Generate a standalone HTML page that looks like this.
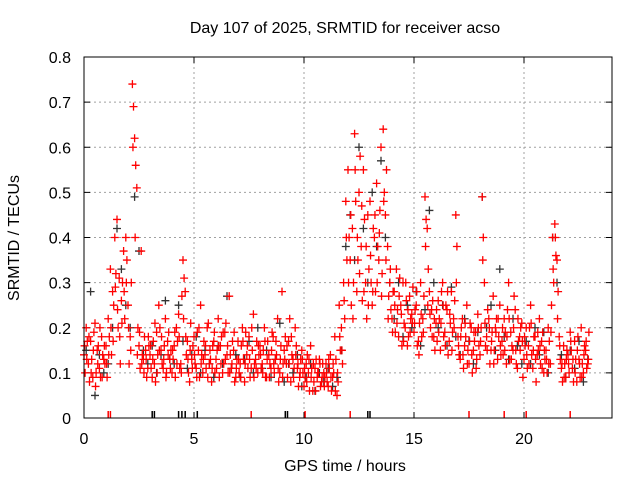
<!DOCTYPE html>
<html><head><meta charset="utf-8">
<style>
html,body{margin:0;padding:0;background:#fff;}
svg{display:block;font-family:"Liberation Sans",sans-serif;}
</style></head>
<body>
<svg id="chart" width="640" height="480" viewBox="0 0 640 480">
  <rect x="0" y="0" width="640" height="480" fill="#fff"/>
  <text x="345" y="33" font-size="16" text-anchor="middle">Day 107 of 2025, SRMTID for receiver acso</text>
  <text x="345" y="471" font-size="16" text-anchor="middle">GPS time / hours</text>
  <text x="19" y="238" font-size="16" text-anchor="middle" transform="rotate(-90 19 238)">SRMTID / TECUs</text>
  <g id="grid"></g>
  <g id="axes"></g>
  <g id="marks"></g>
  <rect x="84" y="57" width="528" height="361" fill="none" stroke="#000" stroke-width="1"/>
</svg>
<script>
const xTicks = [0,5,10,15,20];
const yTicks = [0,0.1,0.2,0.3,0.4,0.5,0.6,0.7,0.8];
const yTickLabels = ["0","0.1","0.2","0.3","0.4","0.5","0.6","0.7","0.8"];
const red1Start = 0, red2Start = 0.05, red3Start = 0.025, blackStart = 0.1;
const redStep = 0.1, blackStep = 0.2;
const red1 = [.14,.20,.12,.17,.09,.21,.15,.11,.18,.13,
.16,.22,.33,.28,.40,.44,.31,.26,.37,.40,
.25,.18,.74,.62,.51,.16,.37,.13,.15,.11,
.14,.09,.12,.19,.25,.15,.11,.22,.17,.13,
.10,.16,.20,.23,.12,.35,.28,.17,.08,.13,
.18,.11,.15,.25,.10,.14,.20,.12,.08,.17,
.13,.22,.16,.10,.19,.14,.27,.11,.15,.09,
.17,.12,.20,.08,.14,.18,.11,.23,.13,.10,
.16,.12,.20,.09,.14,.11,.18,.13,.22,.10,
.28,.15,.12,.17,.08,.13,.20,.11,.09,.15,
.07,.12,.10,.16,.06,.11,.09,.13,.08,.10,
.12,.07,.14,.09,.18,.05,.25,.20,.30,.48,
.55,.35,.42,.63,.28,.50,.38,.55,.30,.45,
.48,.25,.40,.52,.35,.60,.64,.45,.38,.30,
.22,.28,.33,.18,.25,.30,.20,.16,.27,.23,
.19,.25,.17,.30,.22,.49,.42,.28,.24,.18,
.21,.26,.15,.30,.19,.24,.17,.28,.22,.45,
.18,.13,.22,.16,.25,.12,.20,.15,.19,.23,
.14,.49,.30,.18,.22,.15,.27,.20,.13,.25,
.17,.22,.12,.30,.19,.15,.24,.11,.18,.21,
.13,.20,.16,.25,.11,.18,.14,.22,.17,.10,
.15,.20,.12,.40,.43,.35,.18,.11,.16,.09,
.14,.19,.11,.17,.08,.13,.20,.10,.15,.12];
const red2 = [.10,.17,.08,.13,.19,.10,.16,.09,.14,.12,
.09,.18,.14,.25,.32,.20,.12,.30,.22,.35,
.12,.30,.69,.56,.20,.11,.14,.18,.09,.16,
.11,.17,.08,.14,.20,.12,.16,.10,.19,.15,
.13,.09,.17,.11,.27,.31,.14,.10,.21,.16,
.12,.19,.09,.14,.17,.11,.21,.13,.16,.10,
.15,.09,.18,.12,.21,.10,.14,.17,.08,.13,
.10,.16,.13,.19,.11,.09,.15,.12,.17,.14,
.11,.15,.09,.17,.12,.19,.10,.14,.08,.16,
.12,.18,.09,.22,.14,.11,.16,.07,.13,.10,
.09,.14,.06,.11,.08,.13,.10,.07,.12,.09,
.08,.11,.06,.10,.13,.08,.15,.12,.22,.35,
.40,.25,.30,.48,.35,.58,.26,.44,.22,.33,
.30,.42,.28,.38,.46,.32,.50,.55,.27,.24,
.28,.19,.24,.31,.16,.21,.26,.18,.22,.29,
.24,.16,.21,.18,.27,.44,.33,.20,.26,.15,
.17,.22,.28,.18,.25,.14,.21,.19,.26,.38,
.14,.20,.11,.18,.15,.21,.10,.17,.13,.16,
.20,.40,.16,.24,.12,.19,.15,.22,.18,.14,
.14,.19,.24,.13,.16,.27,.12,.17,.20,.09,
.16,.11,.20,.14,.18,.08,.15,.12,.19,.13,
.10,.17,.25,.30,.36,.28,.13,.08,.12,.15,
.10,.15,.08,.13,.18,.09,.12,.16,.11,.19];
const red3 = [.16,.13,.18,.10,.15,.07,.12,.20,.09,.16,
.12,.14,.20,.17,.29,.24,.18,.21,.28,.30,
.20,.15,.60,.40,.14,.19,.12,.10,.13,.18,
.16,.13,.21,.10,.15,.18,.13,.09,.14,.11,
.15,.19,.12,.18,.10,.22,.18,.13,.15,.11,
.14,.09,.20,.12,.13,.16,.09,.15,.11,.19,
.11,.16,.12,.19,.13,.16,.10,.12,.19,.11,
.13,.09,.17,.12,.16,.13,.20,.09,.11,.16,
.14,.10,.17,.13,.09,.15,.12,.17,.11,.13,
.09,.13,.16,.12,.18,.09,.14,.12,.10,.13,
.11,.08,.13,.09,.12,.06,.10,.12,.09,.07,
.10,.13,.09,.12,.06,.10,.18,.15,.26,.40,
.30,.45,.22,.55,.40,.32,.47,.28,.38,.25,
.36,.28,.45,.30,.41,.27,.48,.35,.22,.33,
.19,.25,.21,.27,.23,.17,.30,.24,.19,.21,
.21,.28,.14,.23,.19,.38,.25,.23,.18,.22,
.24,.19,.21,.25,.16,.28,.23,.15,.20,.30,
.16,.18,.14,.21,.12,.17,.14,.19,.11,.20,
.17,.35,.21,.15,.20,.17,.12,.19,.22,.16,
.20,.15,.18,.22,.13,.20,.15,.22,.15,.17,
.18,.14,.12,.21,.15,.13,.19,.16,.11,.15,
.13,.12,.19,.33,.40,.22,.16,.12,.09,.13,
.12,.17,.13,.10,.15,.12,.09,.14,.17,.13];
const black = [.15,.28,.05,.14,.10,.12,.20,.42,.33,.25,
.20,.49,.37,.15,.12,.16,.10,.14,.26,.13,
.12,.25,.17,.11,.14,.18,.10,.15,.12,.09,
.16,.12,.27,.11,.14,.09,.13,.17,.10,.20,
.11,.15,.09,.13,.21,.08,.12,.10,.14,.07,
.09,.12,.06,.10,.08,.11,.07,.09,.15,.38,
.45,.35,.60,.42,.30,.50,.38,.57,.40,.30,
.22,.30,.18,.25,.20,.28,.16,.24,.46,.30,
.20,.25,.16,.29,.18,.14,.22,.17,.12,.19,
.49,.20,.25,.15,.33,.18,.13,.22,.16,.12,
.17,.12,.20,.14,.19,.10,.40,.30,.14,.09,
.15,.11,.17,.08,.13];
const zeroRedTimes = [1.1,1.2,7.6,10.05,12.1,17.5,19.1,20.1,22.1];
const zeroBlackTimes = [3.1,3.2,4.3,4.45,4.6,5.15,9.15,9.25,12.9,13.0];

const X0=84, X1=612, Y0=418, Y1=57;
const xs = t => X0 + t/24*(X1-X0);
const ys = v => Y0 - v/0.8*(Y0-Y1);
const NS="http://www.w3.org/2000/svg";
function mk(tag, parent){const e=document.createElementNS(NS,tag);parent.appendChild(e);return e;}
const grid=document.getElementById('grid'), axes=document.getElementById('axes'), marks=document.getElementById('marks');

xTicks.forEach(t=>{
  const x=xs(t);
  if(t>0){const g=mk('line',grid);g.setAttribute('x1',x);g.setAttribute('x2',x);g.setAttribute('y1',Y1);g.setAttribute('y2',Y0);
  g.setAttribute('stroke','#a0a0a0');g.setAttribute('stroke-dasharray','2,3');
  
  }
  [[Y0,Y0-6],[Y1,Y1+6]].forEach(p=>{const k=mk('line',axes);k.setAttribute('x1',x);k.setAttribute('x2',x);k.setAttribute('y1',p[0]);k.setAttribute('y2',p[1]);k.setAttribute('stroke','#000');
  
  });
  const l=mk('text',axes);l.setAttribute('x',x);l.setAttribute('y',444);l.setAttribute('font-size','16');l.setAttribute('text-anchor','middle');l.textContent=String(t);
  
  
});
yTicks.forEach((v,i)=>{
  const y=ys(v);
  if(i>0&&i<yTicks.length-1){const g=mk('line',grid);g.setAttribute('x1',X0);g.setAttribute('x2',X1);g.setAttribute('y1',y);g.setAttribute('y2',y);
  g.setAttribute('stroke','#a0a0a0');g.setAttribute('stroke-dasharray','2,3');
  
  }
  [[X0,X0+6],[X1,X1-6]].forEach(p=>{const k=mk('line',axes);k.setAttribute('y1',y);k.setAttribute('y2',y);k.setAttribute('x1',p[0]);k.setAttribute('x2',p[1]);k.setAttribute('stroke','#000');
  
  });
  const l=mk('text',axes);l.setAttribute('x',71);l.setAttribute('y',y+6);l.setAttribute('font-size','16');l.setAttribute('text-anchor','end');l.textContent=yTickLabels[i];
  
  
});

function plus(t,v,color,name){
  const x=xs(t), y=ys(v);
  const p=mk('path',marks);
  p.setAttribute('d',`M${x-4},${y}H${x+4}M${x},${y-4}V${y+4}`);
  p.setAttribute('stroke',color);p.setAttribute('stroke-width','1.3');p.setAttribute('fill','none');
  
  
}
function zbar(t,color,name){
  const x=xs(t);const p=mk('line',marks);
  p.setAttribute('x1',x);p.setAttribute('x2',x);p.setAttribute('y1',Y0-7);p.setAttribute('y2',Y0);
  p.setAttribute('stroke',color);p.setAttribute('stroke-width','1.5');
  
  
}
black.forEach((v,i)=>plus(blackStart+i*blackStep,v,'#333','black-point'));
zeroBlackTimes.forEach(t=>zbar(t,'#000','black-zero-marker'));
red1.forEach((v,i)=>plus(red1Start+i*redStep,v,'#f00','red-point'));
red2.forEach((v,i)=>plus(red2Start+i*redStep,v,'#f00','red-point'));
red3.forEach((v,i)=>plus(red3Start+i*redStep,v,'#f00','red-point'));
zeroRedTimes.forEach(t=>zbar(t,'#f00','red-zero-marker'));
</script>
</body></html>
